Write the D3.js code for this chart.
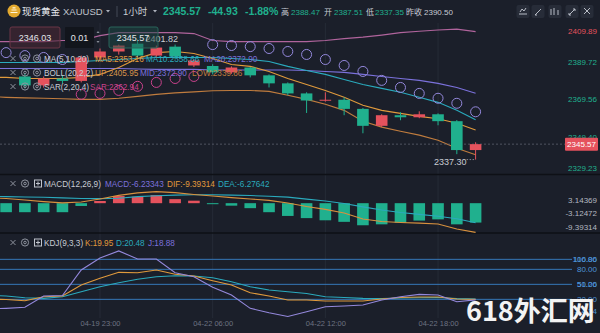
<!DOCTYPE html>
<html><head><meta charset="utf-8">
<script src="https://cdnjs.cloudflare.com/ajax/libs/d3/7.8.5/d3.min.js"></script>
<style>
html,body{margin:0;padding:0;background:#1b1f2a;}
svg{display:block;font-family:"Liberation Sans",Arial,"Noto Sans CJK SC",sans-serif;}
</style></head><body>
<svg id="chart" width="600" height="333"></svg>
<script>
// Hourly bars, XAUUSD
const times = ["04-19 17:00","04-19 18:00","04-19 19:00","04-19 20:00","04-19 21:00","04-19 22:00","04-19 23:00",
  "04-20 00:00","04-20 01:00","04-20 02:00","04-20 03:00","04-20 04:00",
  "04-22 06:00","04-22 07:00","04-22 08:00","04-22 09:00","04-22 10:00","04-22 11:00","04-22 12:00",
  "04-22 13:00","04-22 14:00","04-22 15:00","04-22 16:00","04-22 17:00","04-22 18:00","04-22 19:00","04-22 20:00"];
const axisTimes = ["04-19 23:00","04-22 06:00","04-22 12:00","04-22 18:00"];

const open  = [null,null,2381.9,2377.1,2380.8,2379.5,2392.1,2395.3,2399.5,2393.1,2397.9,2387.8,2387.51,2384.1,2386.7,2382.5,2378.2,2372.8,2369.0,2369.4,2364.5,2355.4,2361.1,2360.0,2361.6,2357.9,2342.4];
const high  = [null,null,2383.5,2381.9,2382.5,2393.1,2396.9,2399.0,2401.82,2398.5,2399.0,2391.0,2388.47,2387.3,2387.0,2383.0,2378.7,2373.4,2373.4,2370.7,2365.0,2361.6,2362.7,2363.2,2362.1,2358.5,2346.6];
const low   = [null,null,2375.5,2375.9,2378.2,2378.7,2390.5,2393.6,2392.1,2392.0,2391.0,2387.0,2383.0,2383.3,2381.4,2376.0,2371.8,2362.3,2368.4,2361.1,2351.4,2354.7,2358.4,2359.5,2355.7,2340.2,2337.30];
const close = [null,null,2377.1,2380.8,2379.5,2392.1,2395.3,2398.5,2393.1,2397.4,2392.6,2390.5,2384.1,2386.7,2382.5,2378.2,2372.8,2369.0,2369.4,2364.5,2355.4,2361.1,2360.0,2361.6,2357.9,2342.4,2345.57];

const ma5  = [2381.4,2381.4,2380.8,2380.8,2380.8,2381.4,2383.0,2386.7,2391.5,2394.7,2395.3,2394.2,2391.5,2388.3,2387.3,2384.6,2380.8,2377.6,2374.4,2370.7,2366.4,2363.7,2362.1,2360.5,2359.2,2356.8,2353.16];
const ma10 = [2389.4,2389.4,2389.4,2389.4,2389.4,2389.9,2390.5,2391.0,2391.5,2392.1,2392.1,2392.1,2392.1,2391.5,2391.0,2389.9,2387.3,2385.1,2383.0,2380.3,2377.6,2375.5,2373.4,2370.7,2368.0,2363.7,2358.66];
const ma20 = [2386.2,2386.2,2386.2,2386.2,2386.2,2386.2,2386.2,2386.2,2385.9,2385.7,2385.7,2385.7,2385.4,2385.4,2385.4,2385.4,2385.4,2385.1,2384.6,2384.1,2383.0,2381.9,2380.8,2379.8,2378.2,2376.0,2372.90];
const bollUp  = [2400.6,2400.6,2400.6,2400.6,2401.2,2401.2,2403.8,2405.4,2405.4,2405.4,2405.4,2404.9,2401.2,2400.6,2400.6,2400.6,2400.6,2400.6,2401.2,2402.2,2403.0,2404.1,2405.4,2406.2,2406.8,2407.3,2405.95];
const bollLow = [2371.2,2370.7,2370.4,2370.2,2369.9,2369.6,2369.6,2370.2,2371.2,2372.3,2373.1,2373.6,2374.2,2374.4,2374.4,2373.9,2371.8,2369.6,2367.0,2363.7,2357.9,2354.7,2352.5,2350.4,2347.7,2343.4,2339.86];
const sar = [null,2394.7,2393.1,2392.1,2391.0,2372.3,2372.8,2374.4,2376.6,2378.7,2380.8,2381.9,2399.0,2398.5,2397.9,2396.9,2395.3,2393.7,2391.0,2387.8,2384.6,2379.8,2376.0,2372.8,2370.2,2367.5,2362.94];

const macdHist = [-2.6,-2.9,-2.9,-2.9,-2.9,-0.9,0.7,2.3,2.1,2.6,1.3,0.8,-0.3,-0.8,-1.6,-2.9,-4.1,-4.8,-5.5,-6.0,-7.1,-6.8,-6.3,-5.6,-5.2,-6.8,-6.23343];
const dif = [1.7,1.5,1.0,0.5,0.1,0.4,1.35,2.5,3.3,3.7,3.4,2.8,2.3,1.8,1.35,0.9,0.06,-1.06,-2.0,-3.15,-5.1,-5.9,-6.2,-6.4,-6.7,-8.3,-9.39314];
const dea = [2.2,2.1,2.0,1.9,1.7,1.5,1.45,1.6,2.1,2.4,2.6,2.7,2.7,2.6,2.45,2.25,1.95,1.3,0.7,-0.1,-1.2,-2.2,-3.0,-3.6,-4.2,-5.0,-6.27642];

const kLine = [20.6,19.6,17.2,25.2,26.6,48.6,62,74,73.2,78.6,70,66.6,57.2,48.6,33.2,26.6,18.6,18.6,16.6,16.6,16.6,20.6,23.6,24.6,24.6,20.6,19.95];
const dLine = [28.6,26.6,23.2,22,25.2,35.2,45.2,53.2,60,65.2,67.2,66.6,63.2,55.2,45.2,38.6,35.2,31.6,25.2,23.6,22,21.6,22.6,23.2,23.6,21.6,20.48];
const jLine = [0.6,2,4,26.6,27.6,78.6,102.6,116.86,100.6,100.6,73.2,65.2,44,28.6,2,-6.8,-14.34,-4.8,5.2,6.6,8.6,18.6,25.2,30,28.6,15.2,18.88];

const priceTicks = [2409.89, 2389.72, 2369.56, 2349.40, 2329.23];
const macdTicks = [3.14369, -3.12472, -9.39314];
const kdjLevels = [100, 80, 50, 20];
const kdjTicks = [116.86, 51.26, -14.34];
const prevClose = 2390.50, lastPrice = 2345.57, dayLow = 2337.30;

const C = {
  bg: "#1b1f2a", grid: "#262b37", sep: "#0e1016", text: "#c8ccd4", dim: "#6d7382",
  up: "#e5525d", down: "#20b08e", orange: "#e09a3c", teal: "#2aaabd", purple: "#7b71dc",
  pink: "#b0649c", brown: "#c07c3e", lav: "#9488dc", mag: "#c9428c", kdjRef: "#3677b8", kdjTxt: "#4d93d6"
};

const svg = d3.select("#chart");
const PR = 566;
const x = d3.scaleLinear().domain([0, times.length - 1]).range([100 - 6 * 18.78, 100 + 20 * 18.78]);
const y = d3.scaleLinear().domain([2329.23, 2409.89]).range([174.6, 24.3]);
const ym = d3.scaleLinear().domain([-9.39314, 3.14369]).range([232.4, 193.4]);
const yk = d3.scaleLinear().domain([-14.34, 116.86]).range([316.5, 250.9]);
const idx = d3.range(times.length);
const bw = 11.6;

svg.append("rect").attr("width", 600).attr("height", 333).attr("fill", C.bg);

const defs = svg.append("defs");
[["clipMain", 23, 151.5], ["clipMacd", 189, 44], ["clipKdj", 248, 70]].forEach(([id, top, h]) => {
  defs.append("clipPath").attr("id", id).append("rect").attr("x", 0).attr("y", top).attr("width", PR).attr("height", h);
});

// vertical grid at the labelled hours
const tickIdx = axisTimes.map(t => times.indexOf(t));
svg.append("g").selectAll("line").data(tickIdx).join("line")
  .attr("x1", d => x(d)).attr("x2", d => x(d)).attr("y1", 23).attr("y2", 318)
  .attr("stroke", C.grid).attr("stroke-width", 1);

// panel separators
svg.append("g").selectAll("line").data([174.5, 233]).join("line")
  .attr("x1", 0).attr("x2", 600).attr("y1", d => d).attr("y2", d => d)
  .attr("stroke", C.sep).attr("stroke-width", 1.5);

// KDJ reference levels
svg.append("g").selectAll("line").data(kdjLevels).join("line")
  .attr("x1", 0).attr("x2", 572).attr("y1", d => yk(d)).attr("y2", d => yk(d))
  .attr("stroke", C.kdjRef).attr("stroke-width", 1);

function series(g, data, scale, color, w) {
  const gen = d3.line().defined(i => data[i] != null).x(i => x(i)).y(i => scale(data[i]));
  g.append("path").attr("d", gen(idx)).attr("fill", "none").attr("stroke", color).attr("stroke-width", w || 1.1);
}

// ---- main price panel ----
const gm = svg.append("g").attr("clip-path", "url(#clipMain)");
series(gm, bollUp, y, C.pink);
series(gm, bollLow, y, C.brown);
series(gm, ma20, y, C.purple);
series(gm, ma10, y, C.teal);
series(gm, ma5, y, C.orange);

gm.append("line").attr("x1", 0).attr("x2", PR).attr("y1", y(lastPrice)).attr("y2", y(lastPrice))
  .attr("stroke", "#5c616d").attr("stroke-width", 0.8).attr("stroke-dasharray", "2,2");

const bars = idx.filter(i => open[i] != null);
const col = i => close[i] >= open[i] ? C.up : C.down;
gm.append("g").selectAll("line").data(bars).join("line")
  .attr("x1", i => x(i)).attr("x2", i => x(i)).attr("y1", i => y(high[i])).attr("y2", i => y(low[i]))
  .attr("stroke", col).attr("stroke-width", 1);
gm.append("g").selectAll("rect").data(bars).join("rect")
  .attr("x", i => x(i) - bw / 2).attr("width", bw)
  .attr("y", i => y(Math.max(open[i], close[i])))
  .attr("height", i => Math.max(1, Math.abs(y(open[i]) - y(close[i]))))
  .attr("fill", col);

gm.append("g").selectAll("circle").data(idx.filter(i => sar[i] != null)).join("circle")
  .attr("cx", i => x(i)).attr("cy", i => y(sar[i])).attr("r", 5)
  .attr("fill", "none").attr("stroke-width", 1)
  .attr("stroke", i => (close[i] != null ? sar[i] > close[i] : true) ? C.lav : C.mag);

// extreme markers
const hiI = high.indexOf(d3.max(high));
svg.append("text").attr("x", x(hiI) + 8).attr("y", y(high[hiI]) + 3).attr("font-size", 9)
  .attr("fill", "#c9ccd2").text(high[hiI].toFixed(2));
const loI = low.indexOf(dayLow);
svg.append("line").attr("x1", x(loI) - 9).attr("x2", x(loI)).attr("y1", y(dayLow)).attr("y2", y(dayLow))
  .attr("stroke", "#9a9ea8").attr("stroke-width", 0.8).attr("stroke-dasharray", "1.5,1.5");
svg.append("text").attr("x", x(loI) - 9).attr("y", y(dayLow) + 5).attr("text-anchor", "end")
  .attr("font-size", 9).attr("fill", "#c9ccd2").text(dayLow.toFixed(2));

// ---- MACD panel ----
const gd = svg.append("g").attr("clip-path", "url(#clipMacd)");
gd.append("g").selectAll("rect").data(idx).join("rect")
  .attr("x", i => x(i) - bw / 2).attr("width", bw)
  .attr("y", i => Math.min(ym(0), ym(macdHist[i])))
  .attr("height", i => Math.max(1, Math.abs(ym(macdHist[i]) - ym(0))))
  .attr("fill", i => macdHist[i] >= 0 ? C.up : C.down);
series(gd, dea, ym, C.teal);
series(gd, dif, ym, "#d8913e");

// ---- KDJ panel ----
const gk = svg.append("g").attr("clip-path", "url(#clipKdj)");
series(gk, dLine, yk, C.teal);
series(gk, kLine, yk, C.orange);
series(gk, jLine, yk, C.lav);

// ---- header ----
const hd = svg.append("g");
hd.append("circle").attr("cx", 14).attr("cy", 11).attr("r", 6.5).attr("fill", "#e3a92f");
hd.append("path").attr("d", "M10.5,12.5h7M11.5,10h5M12.5,7.8h3").attr("stroke", "#fff6dc").attr("stroke-width", 1.2);
function ht(xp, txt, fill, size, weight) {
  hd.append("text").attr("x", xp).attr("y", 15).attr("font-size", size).attr("fill", fill)
    .attr("font-weight", weight || "normal").text(txt);
}
function caret(cx) {
  hd.append("path").attr("d", `M${cx - 2},${10}L${cx + 2},${10}L${cx},${12.5}Z`).attr("fill", "#aeb2bc");
}
ht(22, "现货黄金", "#e8eaee", 9.5);
ht(63, "XAUUSD", "#c0c4cc", 9.5);
caret(108);
hd.append("line").attr("x1", 117).attr("x2", 117).attr("y1", 6).attr("y2", 17).attr("stroke", "#444a57");
ht(123, "1小时", "#c8ccd4", 9.5);
caret(155);
ht(163, "2345.57", C.down, 10.5, "bold");
ht(208, "-44.93", C.down, 10.5, "bold");
ht(245, "-1.88%", C.down, 10.5, "bold");
ht(281, "高", "#c8ccd4", 8);
ht(291, "2388.47", C.down, 8);
ht(324, "开", "#c8ccd4", 8);
ht(334, "2387.51", C.down, 8);
ht(366, "低", "#c8ccd4", 8);
ht(375, "2337.35", C.down, 8);
ht(406, "昨收", "#c8ccd4", 8);
ht(424, "2390.50", "#c8ccd4", 8);
const icoX = [523, 538, 555, 572, 587];
hd.selectAll("rect.ico").data(icoX).join("rect").attr("class", "ico")
  .attr("x", d => d - 6.5).attr("y", 5).attr("width", 13).attr("height", 13).attr("rx", 2).attr("fill", "#272c38");
const glyphs = [
  "M519,14h8M520,12l2,-3l2,2l2,-3",
  "M535,15l6,-6M535,15h2",
  "M551,9v6M554,8v7M558,10v5",
  "M569,15l6,-6M573,9h2v2M569,13v2h2",
  "M584,8l6,6M590,8l-6,6"
];
hd.selectAll("path.gl").data(glyphs).join("path").attr("class", "gl").attr("d", d => d)
  .attr("stroke", "#b8bcc6").attr("stroke-width", 1).attr("fill", "none");

// ---- order widgets ----
const wg = svg.append("g");
wg.append("rect").attr("x", 10).attr("y", 27).attr("width", 50).attr("height", 21).attr("rx", 2)
  .attr("fill", "#4a2733").attr("fill-opacity", 0.55).attr("stroke", "#6a3646");
wg.append("rect").attr("x", 65).attr("y", 27).attr("width", 29).attr("height", 21).attr("rx", 1).attr("fill", "#12151c");
wg.append("path").attr("d", "M96.5,33l1.5,-2l1.5,2ZM96.5,41l1.5,2l1.5,-2Z").attr("fill", "#8a8f99");
wg.append("rect").attr("x", 109).attr("y", 27).attr("width", 49).attr("height", 21).attr("rx", 2)
  .attr("fill", "#1c4a43").attr("fill-opacity", 0.5).attr("stroke", "#2a655b");
[[35, "2346.03"], [79.5, "0.01"], [133, "2345.57"]].forEach(([cx, t]) => {
  wg.append("text").attr("x", cx).attr("y", 41).attr("text-anchor", "middle").attr("font-size", 9)
    .attr("fill", "#e4e6ea").text(t);
});

// ---- legends ----
function ctrl(g, cy, kind) {
  g.append("path").attr("d", `M10.5,${cy - 3}L15.5,${cy + 2}M15.5,${cy - 3}L10.5,${cy + 2}`)
    .attr("stroke", "#8e939e").attr("stroke-width", 1);
  g.append("circle").attr("cx", 25).attr("cy", cy - 0.5).attr("r", 3.6).attr("fill", "none").attr("stroke", "#8e939e");
  g.append("circle").attr("cx", 25).attr("cy", cy - 0.5).attr("r", 1.3).attr("fill", "none").attr("stroke", "#8e939e");
  if (kind === "eye") {
    g.append("circle").attr("cx", 37).attr("cy", cy - 0.5).attr("r", 3.6).attr("fill", "none").attr("stroke", "#8e939e");
    g.append("circle").attr("cx", 37).attr("cy", cy - 0.5).attr("r", 1.3).attr("fill", "none").attr("stroke", "#8e939e");
  } else {
    g.append("rect").attr("x", 34.5).attr("y", cy - 4).attr("width", 7).attr("height", 7).attr("fill", "none").attr("stroke", "#c0c4cc");
    g.append("path").attr("d", `M36,${cy - 0.5}h4M38,${cy - 2.5}v4`).attr("stroke", "#c0c4cc");
  }
}
const legends = [
  {cy: 59, kind: "eye", items: [[44, "MA(5,10,20)", C.text], [95, "MA5:2353.16", C.orange], [146, "MA10:2358.66", C.teal], [204, "MA20:2372.90", C.purple]]},
  {cy: 73, kind: "eye", items: [[44, "BOLL(20,2,2)", C.text], [95, "UP:2405.95", "#d8954a"], [140, "MID:2372.90", C.purple], [192, "LOW:2339.86", C.brown]]},
  {cy: 87, kind: "eye", items: [[44, "SAR(2,20,4)", C.text], [90, "SAR:2362.94", C.mag]]},
  {cy: 184, kind: "box", items: [[44, "MACD(12,26,9)", C.text], [105, "MACD:-6.23343", C.purple], [167, "DIF:-9.39314", C.orange], [218, "DEA:-6.27642", C.teal]]},
  {cy: 243, kind: "box", items: [[44, "KDJ(9,3,3)", C.text], [85, "K:19.95", C.orange], [116, "D:20.48", C.teal], [148, "J:18.88", C.purple]]}
];
legends.forEach(r => {
  const g = svg.append("g");
  ctrl(g, r.cy, r.kind);
  r.items.forEach(([lx, t, f]) => g.append("text").attr("x", lx).attr("y", r.cy + 3).attr("font-size", 8.2).attr("fill", f).text(t));
});

// ---- value axes ----
const clamp = (v, a, b) => Math.max(a, Math.min(b, v));
const ax = svg.append("g").attr("font-size", 8).attr("text-anchor", "end");
ax.selectAll("text.p").data(priceTicks).join("text").attr("class", "p")
  .attr("x", 597).attr("y", d => clamp(y(d), 31, 168)).attr("dy", "0.35em")
  .attr("fill", d => d > prevClose ? C.up : C.down).text(d => d.toFixed(2));
ax.append("rect").attr("x", 565).attr("y", y(lastPrice) - 6.5).attr("width", 33).attr("height", 13).attr("rx", 1).attr("fill", C.up);
ax.append("text").attr("x", 596).attr("y", y(lastPrice)).attr("dy", "0.35em").attr("fill", "#ffffff").text(lastPrice.toFixed(2));
ax.selectAll("text.m").data(macdTicks).join("text").attr("class", "m")
  .attr("x", 597).attr("y", d => clamp(ym(d), 200, 227)).attr("dy", "0.35em")
  .attr("fill", "#b4b8c0").text(d => d.toFixed(5));
ax.selectAll("text.k").data(kdjTicks).join("text").attr("class", "k")
  .attr("x", 597).attr("y", d => clamp(yk(d), 259, 311)).attr("dy", "0.35em")
  .attr("fill", C.kdjTxt).text(d => d.toFixed(2));
ax.selectAll("text.kl").data(kdjLevels).join("text").attr("class", "kl")
  .attr("x", 597).attr("y", d => yk(d)).attr("dy", "0.35em")
  .attr("fill", C.kdjTxt).text(d => d.toFixed(2));

// ---- time axis ----
const tAxis = d3.axisBottom(x).tickValues(tickIdx).tickFormat(i => times[i]).tickSize(0).tickPadding(0);
const tg = svg.append("g").attr("transform", "translate(0,321)").call(tAxis);
tg.select(".domain").remove();
tg.selectAll("text").attr("fill", C.dim).attr("font-size", 7.5)
  .attr("font-family", "'Liberation Sans',Arial,sans-serif");

// ---- site mark ----
svg.append("text").attr("x", 466).attr("y", 321).attr("font-size", 27).attr("font-weight", "bold")
  .attr("font-family", "'Noto Sans CJK SC',sans-serif").attr("fill", "#f3f3f3").text("618外汇网");
</script>
</body></html>
